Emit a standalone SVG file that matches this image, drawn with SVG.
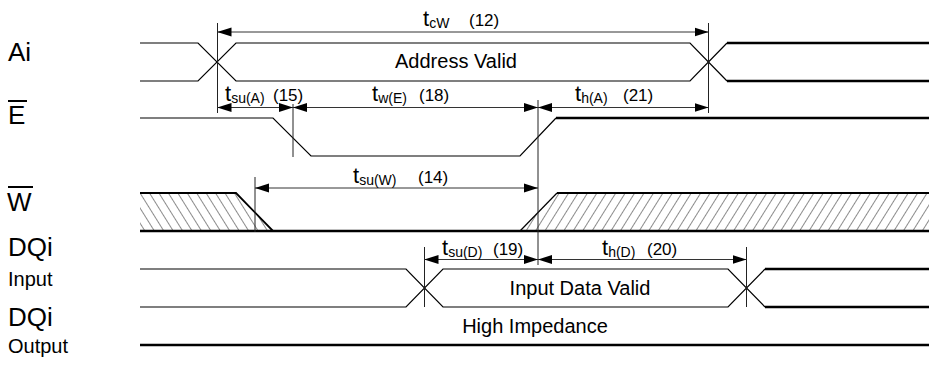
<svg xmlns="http://www.w3.org/2000/svg" width="929" height="365" viewBox="0 0 929 365">
<style>
.bg{fill:#fff}
.thin{fill:none;stroke:#000;stroke-width:1.2}
.thick{fill:none;stroke:#000;stroke-width:2.5}
.med{fill:none;stroke:#000;stroke-width:1.8}
.vl{fill:none;stroke:#222;stroke-width:1}
.arr{fill:none;stroke:#333;stroke-width:1;marker-start:url(#ah);marker-end:url(#ah)}
.lbl{font-family:"Liberation Sans",Arial,sans-serif;font-size:26px;fill:#000}
.lbls{font-family:"Liberation Sans",Arial,sans-serif;font-size:20px;fill:#000}
.txt{font-family:"Liberation Sans",Arial,sans-serif;font-size:20px;fill:#000;text-anchor:middle}
.t{font-family:"Liberation Sans",Arial,sans-serif;font-size:22px;fill:#000}
.sub{font-size:14px}
.num{font-family:"Liberation Sans",Arial,sans-serif;font-size:17px;fill:#000}
.ob{stroke:#000;stroke-width:2}
</style>
<defs>
<marker id="ah" markerUnits="userSpaceOnUse" markerWidth="14" markerHeight="10" refX="14" refY="5" orient="auto-start-reverse">
<path d="M0,0.5 L14,5 L0,9.5 Z" fill="#000"/>
</marker>
<pattern id="hb" patternUnits="userSpaceOnUse" width="8" height="8" patternTransform="rotate(-32)">
<line x1="0" y1="-1" x2="0" y2="9" stroke="#000" stroke-width="0.9"/>
</pattern>
<pattern id="hf" patternUnits="userSpaceOnUse" width="8" height="8" patternTransform="rotate(32)">
<line x1="0" y1="-1" x2="0" y2="9" stroke="#000" stroke-width="0.9"/>
</pattern>
</defs>
<rect class="bg" width="929" height="365"/>

<g id="labels">
<text class="lbl" x="8" y="61">Ai</text>
<g id="label-E"><line class="ob" x1="8" y1="101" x2="27" y2="101"/><text class="lbl" x="8" y="124">E</text></g>
<g id="label-W"><line class="ob" x1="8" y1="187" x2="33" y2="187"/><text class="lbl" x="7" y="211">W</text></g>
<text class="lbl" x="8" y="256">DQi</text>
<text class="lbls" x="8" y="286">Input</text>
<text class="lbl" x="8" y="326">DQi</text>
<text class="lbls" x="8" y="353">Output</text>
</g>

<g id="sig-Ai">
<path class="thin" d="M140,43 H198 L236,81 H690 L727,43"/>
<path class="thin" d="M140,81 H198 L236,43 H690 L727,81"/>
<path class="thick" d="M727,43 H929 M727,81 H929"/>
<text class="txt" x="456" y="68">Address Valid</text>
</g>

<g id="sig-E">
<path class="thin" d="M140,118 H273 L311,156 H520 L556,118"/>
<path class="thick" d="M556,118 H929"/>
</g>

<g id="sig-W">
<path d="M140,193 H236 L273,231 H140 Z" fill="url(#hb)"/>
<path class="med" d="M140,193 H236 L273,231"/>
<path d="M520,231 L557,193 H929 V231 Z" fill="url(#hf)"/>
<path class="thin" d="M520,231 L557,193"/>
<path class="med" d="M557,193 H929"/>
<path class="thick" d="M140,231 H929"/>
</g>

<g id="sig-DQi-in">
<path class="thin" d="M140,269 H406 L443,307 H728 L765,269"/>
<path class="thin" d="M140,307 H406 L443,269 H728 L765,307"/>
<path class="thick" d="M765,269 H929 M765,307 H929"/>
<text class="txt" x="580" y="295">Input Data Valid</text>
</g>

<g id="sig-DQi-out">
<path class="thick" d="M140,345 H929"/>
<text class="txt" x="535" y="333">High Impedance</text>
</g>

<g id="connectors">
<line class="vl" x1="217.5" y1="23" x2="217.5" y2="113"/>
<line class="vl" x1="708.5" y1="23" x2="708.5" y2="113"/>
<line class="vl" x1="293" y1="104" x2="293" y2="157"/>
<line class="vl" x1="538" y1="100" x2="538" y2="265"/>
<line class="vl" x1="255" y1="177" x2="255" y2="232"/>
<line class="vl" x1="424.5" y1="247" x2="424.5" y2="307"/>
<line class="vl" x1="746.5" y1="247" x2="746.5" y2="307"/>
<line class="arr" x1="217.5" y1="32" x2="708.5" y2="32"/>
<line class="arr" x1="217.5" y1="107.5" x2="293" y2="107.5"/>
<line class="arr" x1="293" y1="107.5" x2="538" y2="107.5"/>
<line class="arr" x1="538" y1="107.5" x2="708.5" y2="107.5"/>
<line class="arr" x1="255" y1="188" x2="538" y2="188"/>
<line class="arr" x1="424.5" y1="259.5" x2="538" y2="259.5"/>
<line class="arr" x1="538" y1="259.5" x2="746.5" y2="259.5"/>
</g>

<g id="timing-labels">
<text class="t" x="423" y="26">t<tspan class="sub" dy="2">cW</tspan></text>
<text class="num" x="469" y="26">(12)</text>
<text class="t" x="225" y="101">t<tspan class="sub" dy="2">su(A)</tspan></text>
<text class="num" x="273" y="101">(15)</text>
<text class="t" x="372" y="101">t<tspan class="sub" dy="2">w(E)</tspan></text>
<text class="num" x="419" y="101">(18)</text>
<text class="t" x="575" y="101">t<tspan class="sub" dy="2">h(A)</tspan></text>
<text class="num" x="623" y="101">(21)</text>
<text class="t" x="353" y="183">t<tspan class="sub" dy="2">su(W)</tspan></text>
<text class="num" x="418" y="183">(14)</text>
<text class="t" x="442" y="255">t<tspan class="sub" dy="2">su(D)</tspan></text>
<text class="num" x="493" y="255">(19)</text>
<text class="t" x="602" y="255">t<tspan class="sub" dy="2">h(D)</tspan></text>
<text class="num" x="647" y="255">(20)</text>
</g>
</svg>
